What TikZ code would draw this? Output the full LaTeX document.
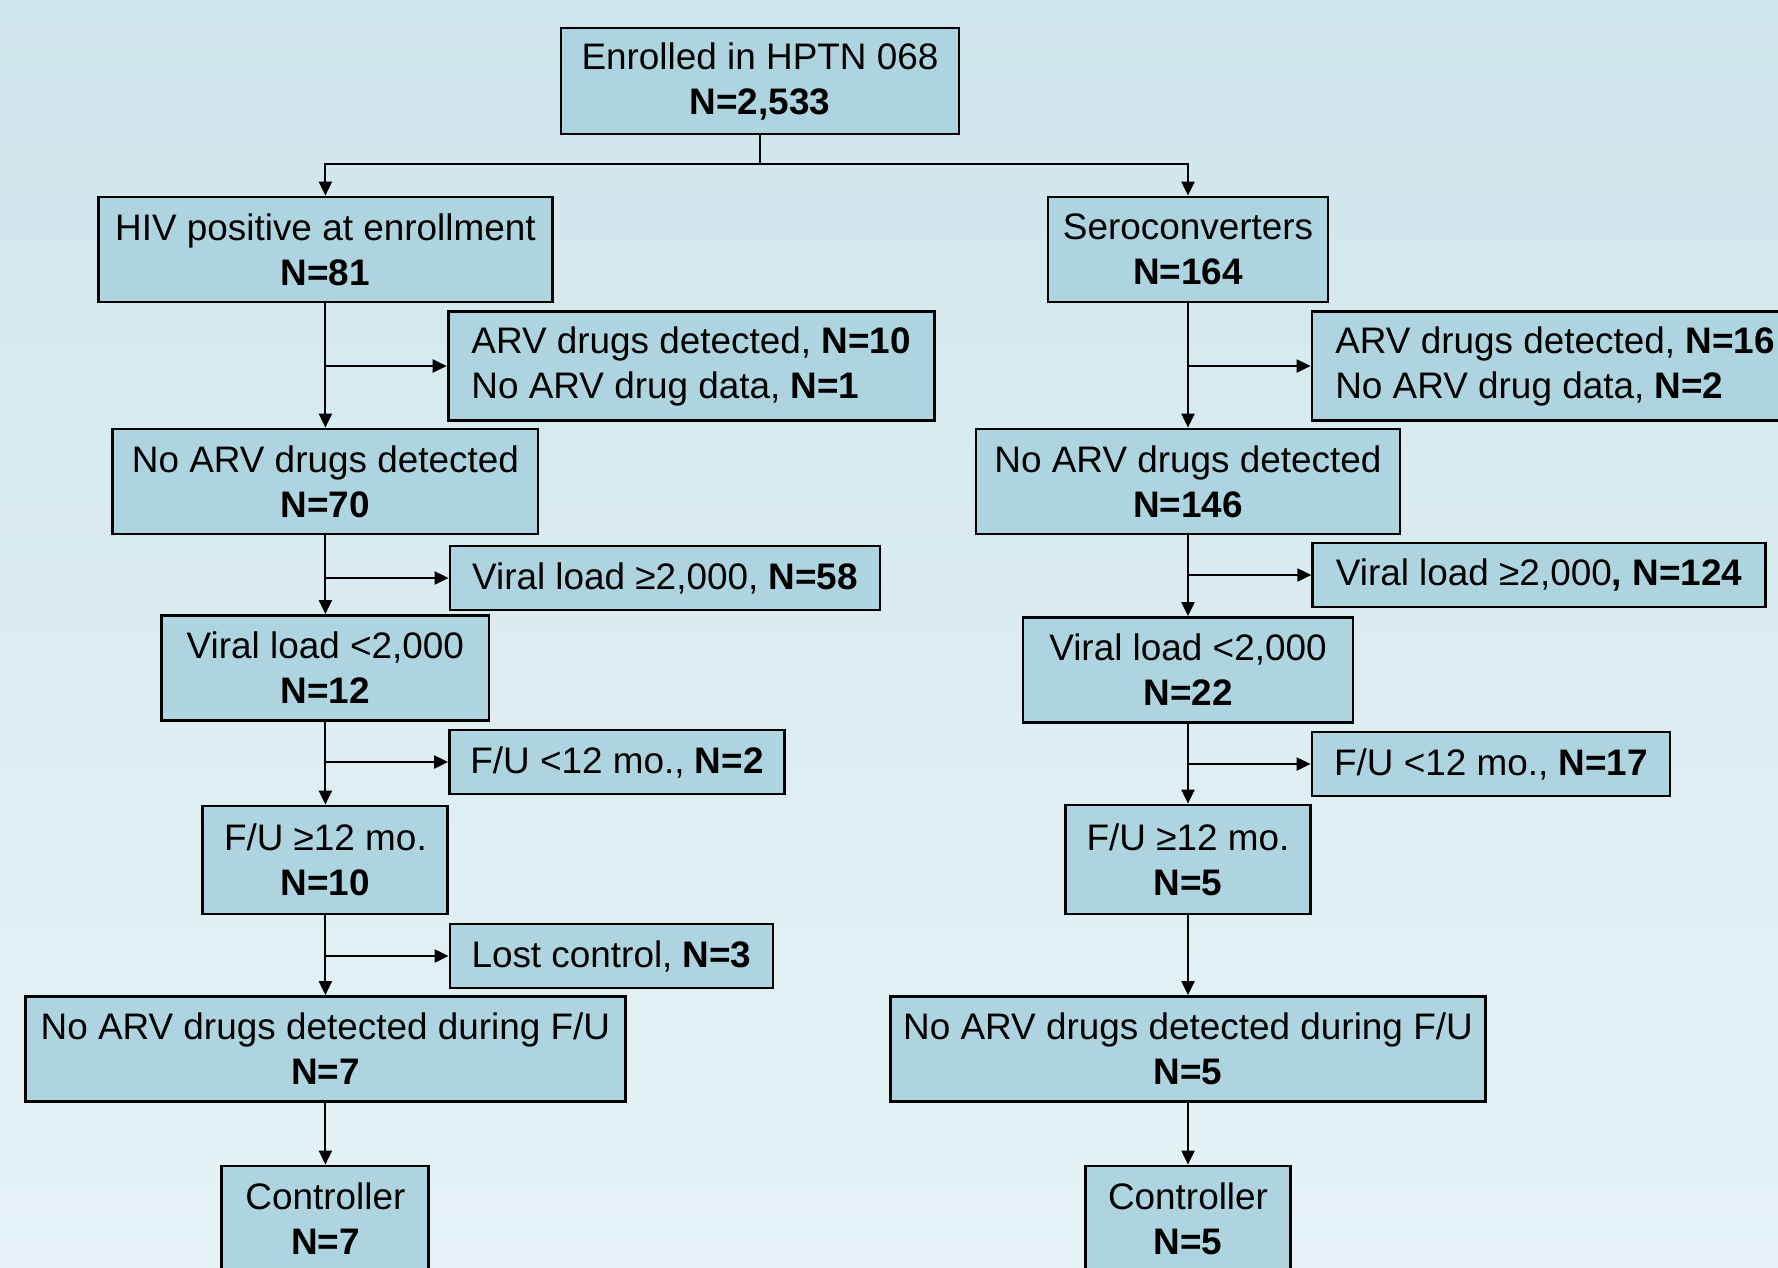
\documentclass[tikz,border=0pt]{standalone}
\usepackage{fontspec}
\setmainfont{Liberation Sans}
\usetikzlibrary{positioning,arrows.meta}
\definecolor{boxfill}{RGB}{174,213,223}
\definecolor{bgtop}{RGB}{207,230,236}
\definecolor{bgbot}{RGB}{231,243,246}
\tikzset{
  stage/.style={draw=black,fill=boxfill,line width=0.8pt,align=center,inner sep=0pt,
    minimum height=1.05cm,font=\fontsize{10.5}{12.8}\selectfont},
  excl/.style={stage,align=left,minimum height=0.64cm},  % excluded branch
  flow/.style={-{Triangle[length=1.4mm,width=1.3mm]},line width=0.6pt},
  link/.style={line width=0.6pt},
}

\begin{document}
\begin{tikzpicture}
  \useasboundingbox (0,0) rectangle (17.78,-12.67);
  \shade[top color=bgtop,bottom color=bgbot] (0,0) rectangle (17.78,-12.67);
  \node[stage,minimum width=3.98cm,minimum height=1.06cm] (enr) at (7.60,-0.81) {Enrolled in HPTN 068\\\textbf{N=2,533}};
  \coordinate (split) at (7.60,-1.644);
  % left arm: positive at enrollment
  \node[stage,minimum width=4.54cm] (hiv) at (3.254,-2.495) {HIV positive at enrollment\\\textbf{N=81}};
  \node[excl,minimum width=4.86cm,minimum height=1.09cm] (arvL) at (6.911,-3.66) {ARV drugs detected, \textbf{N=10}\\No ARV drug data, \textbf{N=1}};
  \node[stage,minimum width=4.25cm] (noarvL) at (3.254,-4.815) {No ARV drugs detected\\\textbf{N=70}};
  \node[excl,minimum width=4.30cm] (vlgeL) at (6.65,-5.78) {Viral load ≥2,000, \textbf{N=58}};
  \node[stage,minimum width=3.27cm] (vlltL) at (3.254,-6.68) {Viral load <2,000\\\textbf{N=12}};
  \node[excl,minimum width=3.35cm] (fultL) at (6.17,-7.62) {F/U <12 mo., \textbf{N=2}};
  \node[stage,minimum width=2.45cm,minimum height=1.08cm] (fugeL) at (3.254,-8.60) {F/U ≥12 mo.\\\textbf{N=10}};
  \node[excl,minimum width=3.23cm] (lost) at (6.115,-9.56) {Lost control, \textbf{N=3}};
  \node[stage,minimum width=6.00cm] (nofuL) at (3.254,-10.49) {No ARV drugs detected during F/U\\\textbf{N=7}};
  \node[stage,minimum width=2.07cm,minimum height=1.06cm] (ctrlL) at (3.254,-12.19) {Controller\\\textbf{N=7}};
  % right arm: seroconverters
  \node[stage,minimum width=2.80cm] (sero) at (11.88,-2.495) {Seroconverters\\\textbf{N=164}};
  \node[excl,minimum width=4.86cm,minimum height=1.09cm] (arvR) at (15.55,-3.66) {ARV drugs detected, \textbf{N=16}\\No ARV drug data, \textbf{N=2}};
  \node[stage,minimum width=4.24cm] (noarvR) at (11.88,-4.815) {No ARV drugs detected\\\textbf{N=146}};
  \node[excl,minimum width=4.525cm] (vlgeR) at (15.39,-5.75) {Viral load ≥2,000\textbf{, N=124}};
  \node[stage,minimum width=3.30cm] (vlltR) at (11.88,-6.70) {Viral load <2,000\\\textbf{N=22}};
  \node[excl,minimum width=3.58cm] (fultR) at (14.91,-7.64) {F/U <12 mo., \textbf{N=17}};
  \node[stage,minimum width=2.45cm,minimum height=1.09cm] (fugeR) at (11.88,-8.595) {F/U ≥12 mo.\\\textbf{N=5}};
  \node[stage,minimum width=5.955cm] (nofuR) at (11.88,-10.49) {No ARV drugs detected during F/U\\\textbf{N=5}};
  \node[stage,minimum width=2.055cm,minimum height=1.06cm] (ctrlR) at (11.88,-12.19) {Controller\\\textbf{N=5}};
  % connectors
  \draw[link] (enr.south) -- (split);
  \draw[flow] (split) -| (hiv.north);
  \draw[flow] (split) -| (sero.north);
  \foreach \a/\b in {hiv/noarvL,noarvL/vlltL,vlltL/fugeL,fugeL/nofuL,nofuL/ctrlL,
                     sero/noarvR,noarvR/vlltR,vlltR/fugeR,fugeR/nofuR,nofuR/ctrlR}
    \draw[flow] (\a.south) -- (\b.north);
  \foreach \a/\b in {hiv/arvL,noarvL/vlgeL,vlltL/fultL,fugeL/lost,
                     sero/arvR,noarvR/vlgeR,vlltR/fultR}
    \draw[flow] (\a.south |- \b.west) -- (\b.west);
\end{tikzpicture}
\end{document}
